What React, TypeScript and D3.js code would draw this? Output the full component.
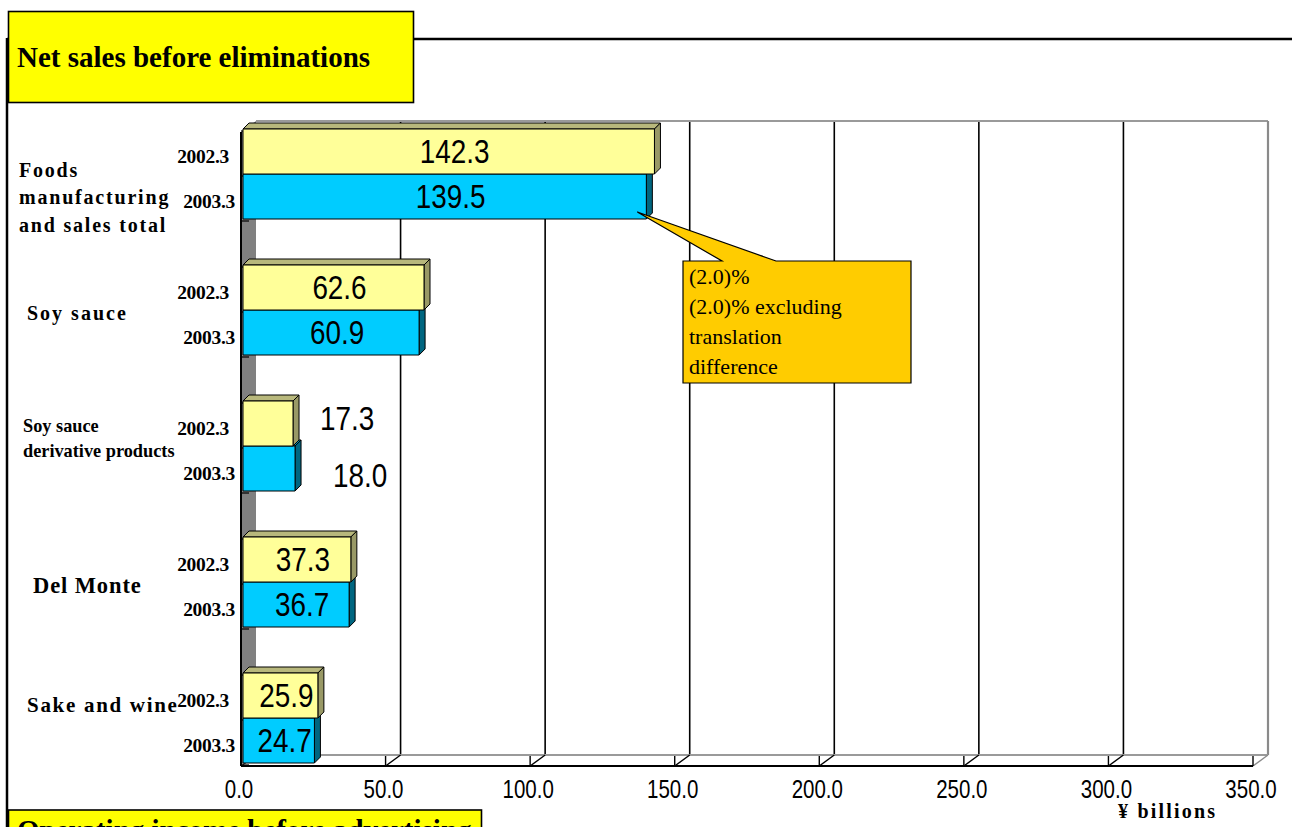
import React from "react";
import * as d3 from "d3";

// Segment names, split into the lines they are set on
const categories = [
  "Foods manufacturing and sales total",
  "Soy sauce",
  "Soy sauce derivative products",
  "Del Monte",
  "Sake and wine",
];
const categoryLines = [
  ["Foods", "manufacturing", "and sales total"],
  ["Soy sauce"],
  ["Soy sauce", "derivative products"],
  ["Del Monte"],
  ["Sake and wine"],
];
const years = ["2002.3", "2003.3"];
// Net sales before eliminations, ¥ billions
const sales2002 = [142.3, 62.6, 17.3, 37.3, 25.9];
const sales2003 = [139.5, 60.9, 18.0, 36.7, 24.7];
const xTicks = [0, 50, 100, 150, 200, 250, 300, 350];
const calloutLines = ["(2.0)%", "(2.0)% excluding", "translation", "difference"];

const W = 1292;
const H = 827;
const SERIF = "'Liberation Serif', 'Times New Roman', serif";
const SANS = "'Liberation Sans', Arial, sans-serif";

// 3D frame geometry
const FLOOR_Y = 766;
const WALL_TOP = 121;
const DX = 15;
const DY = -11;
const BAR_DX = 6;
const BAR_DY = -6;
const BAR_SHIFT = 2;

// Per-category label typography and placement
const catStyle = [
  { x: 19, size: 20, spacing: 1.8, dy: [48, 75, 103] },
  { x: 27, size: 20, spacing: 2, dy: [55] },
  { x: 23, size: 18.3, spacing: 0, dy: [31, 56] },
  { x: 33, size: 22.5, spacing: 0.9, dy: [56] },
  { x: 27, size: 21, spacing: 1.7, dy: [39] },
];

const seriesStyle = [
  { front: "#FFFF99", top: "#B8B87C", side: "#999966", yearRight: 229 },
  { front: "#00CCFF", top: "#0099BB", side: "#006680", yearRight: 235 },
];

export default function App() {
  const x = d3.scaleLinear().domain([0, 350]).range([241, 1253]);
  const band = d3
    .scaleBand<string>()
    .domain(categories)
    .range([129, 129 + 4 * 136 + 90])
    .paddingInner(46 / 136)
    .paddingOuter(0);
  const sub = d3.scaleBand<string>().domain(years).range([0, band.bandwidth()]);
  const h = sub.bandwidth();
  const values = [sales2002, sales2003];

  const x0 = x(0);
  const xEnd = x(350);

  const barFront = (v: number) => x(v) + BAR_SHIFT;

  const bars: JSX.Element[] = [];
  const valueLabels: JSX.Element[] = [];
  const yearLabels: JSX.Element[] = [];
  const ticksY: number[] = [];

  categories.forEach((c, i) => {
    const by = band(c)!;
    ticksY.push(by + 2, by + h + 2, by + 2 * h + 2);
    // draw the lower (2003.3) bar first so the upper bar sits over its top face
    [1, 0].forEach((j) => {
      const v = values[j][i];
      const y0 = by + sub(years[j])!;
      const xl = x0 + BAR_SHIFT;
      const xr = barFront(v);
      const st = seriesStyle[j];
      bars.push(
        <g key={`bar-${i}-${j}`} stroke="#000" strokeWidth={1} strokeLinejoin="round">
          <polygon
            points={`${xl},${y0} ${xl + BAR_DX},${y0 + BAR_DY} ${xr + BAR_DX},${y0 + BAR_DY} ${xr},${y0}`}
            fill={st.top}
          />
          <polygon
            points={`${xr},${y0} ${xr + BAR_DX},${y0 + BAR_DY} ${xr + BAR_DX},${y0 + h + BAR_DY} ${xr},${y0 + h}`}
            fill={st.side}
          />
          <rect x={xl} y={y0} width={xr - xl} height={h} fill={st.front} />
        </g>
      );
    });
    [0, 1].forEach((j) => {
      const v = values[j][i];
      const y0 = by + sub(years[j])!;
      const xl = x0 + BAR_SHIFT;
      const xr = barFront(v);
      const inside = xr - xl > 60;
      const tx = inside ? (xl + xr) / 2 + 6 : xr + 27 + j * 11;
      const ty = inside ? y0 + 34 : y0 + 29 + j * 12;
      valueLabels.push(
        <text
          key={`val-${i}-${j}`}
          transform={`translate(${tx},${ty}) scale(0.82,1)`}
          textAnchor={inside ? "middle" : "start"}
          fontFamily={SANS}
          fontSize={34}
          fill="#000"
        >
          {v.toFixed(1)}
        </text>
      );
      yearLabels.push(
        <text
          key={`yr-${i}-${j}`}
          x={seriesStyle[j].yearRight}
          y={y0 + 34}
          textAnchor="end"
          fontFamily={SERIF}
          fontWeight="bold"
          fontSize={19.5}
          letterSpacing={-0.3}
          fill="#000"
        >
          {years[j]}
        </text>
      );
    });
  });

  // callout anchored on the 2003.3 foods total bar
  const fy = band(categories[0])! + sub(years[1])!;
  const tipX = barFront(sales2003[0]) - 9;
  const tipY = fy + h - 7;
  const cb = { x: 683, y: 261, w: 228, h: 122 };
  const calloutPath = `M${cb.x},${cb.y} L722,${cb.y} L${tipX},${tipY} L776,${cb.y} L${cb.x + cb.w},${cb.y} L${cb.x + cb.w},${cb.y + cb.h} L${cb.x},${cb.y + cb.h} Z`;

  return (
    <svg
      width={W}
      height={H}
      viewBox={`0 0 ${W} ${H}`}
      style={{ position: "absolute", left: 0, top: 0, background: "#fff" }}
    >
      <rect x={0} y={0} width={W} height={H} fill="#fff" />

      {/* page frame */}
      <line x1={7} y1={39} x2={W} y2={39} stroke="#000" strokeWidth={2.5} />
      <line x1={7} y1={38} x2={7} y2={H} stroke="#000" strokeWidth={2.5} />

      {/* back wall */}
      <rect
        x={x0 + DX}
        y={WALL_TOP}
        width={xEnd - x0}
        height={FLOOR_Y + DY - WALL_TOP}
        fill="#fff"
      />
      {xTicks
        .filter((t) => t > 0 && t < 350)
        .map((t) => (
          <line
            key={`g-${t}`}
            x1={x(t) + DX}
            x2={x(t) + DX}
            y1={WALL_TOP}
            y2={FLOOR_Y + DY}
            stroke="#000"
            strokeWidth={1.6}
          />
        ))}
      <line x1={x0 + DX} x2={xEnd + DX} y1={WALL_TOP} y2={WALL_TOP} stroke="#9a9a9a" strokeWidth={2} />
      <line x1={xEnd + DX} x2={xEnd + DX} y1={WALL_TOP} y2={FLOOR_Y + DY} stroke="#8a8a8a" strokeWidth={2.2} />

      {/* floor */}
      <polygon
        points={`${x0},${FLOOR_Y} ${x0 + DX},${FLOOR_Y + DY} ${xEnd + DX},${FLOOR_Y + DY} ${xEnd},${FLOOR_Y}`}
        fill="#fff"
      />
      <line x1={x0 + DX} x2={xEnd + DX} y1={FLOOR_Y + DY} y2={FLOOR_Y + DY} stroke="#9a9a9a" strokeWidth={2} />
      {xTicks.map((t) => (
        <g key={`ft-${t}`} stroke={t === 350 ? "#8a8a8a" : "#000"} strokeWidth={1.4}>
          <line x1={x(t)} y1={FLOOR_Y} x2={x(t) + DX} y2={FLOOR_Y + DY} />
          <line x1={x(t)} y1={FLOOR_Y} x2={x(t)} y2={FLOOR_Y + DY + 1} stroke="#000" />
        </g>
      ))}
      <line x1={x0} x2={xEnd} y1={FLOOR_Y} y2={FLOOR_Y} stroke="#000" strokeWidth={2} />

      {/* left wall */}
      <polygon
        points={`${x0},${FLOOR_Y} ${x0},${WALL_TOP - DY} ${x0 + DX},${WALL_TOP} ${x0 + DX},${FLOOR_Y + DY}`}
        fill="#808080"
      />
      <line x1={x0} x2={x0} y1={WALL_TOP - DY} y2={FLOOR_Y} stroke="#000" strokeWidth={2} />
      {ticksY.map((ty, k) => (
        <line key={`yt-${k}`} x1={x0} x2={x0 + 8} y1={ty} y2={ty} stroke="#000" strokeWidth={1.2} />
      ))}

      {/* bars */}
      {bars}
      {valueLabels}

      {/* axis tick labels */}
      {xTicks.map((t) => (
        <text
          key={`xl-${t}`}
          transform={`translate(${x(t) - 2},798) scale(0.82,1)`}
          textAnchor="middle"
          fontFamily={SANS}
          fontSize={25}
          fill="#000"
        >
          {t.toFixed(1)}
        </text>
      ))}
      <text x={1118} y={818} fontFamily={SERIF} fontWeight="bold" fontSize={20} letterSpacing={2.2} fill="#000">
        ¥ billions
      </text>

      {/* category and year labels */}
      {categoryLines.map((lines, i) => {
        const st = catStyle[i];
        const by = band(categories[i])!;
        return (
          <text
            key={`cat-${i}`}
            fontFamily={SERIF}
            fontWeight="bold"
            fontSize={st.size}
            letterSpacing={st.spacing}
            fill="#000"
          >
            {lines.map((ln, k) => (
              <tspan key={k} x={st.x} y={by + st.dy[k]}>
                {ln}
              </tspan>
            ))}
          </text>
        );
      })}
      {yearLabels}

      {/* callout */}
      <path d={calloutPath} fill="#FFCC00" stroke="#000" strokeWidth={1.2} strokeLinejoin="miter" />
      {calloutLines.map((ln, k) => (
        <text key={`co-${k}`} x={689} y={284 + k * 30} fontFamily={SERIF} fontSize={22} fill="#000">
          {ln}
        </text>
      ))}

      {/* title boxes */}
      <rect x={8.5} y={11.5} width={405} height={91} fill="#FFFF00" stroke="#000" strokeWidth={1.6} />
      <text x={17} y={67} fontFamily={SERIF} fontWeight="bold" fontSize={29} fill="#000">
        Net sales before eliminations
      </text>
      <rect x={8.5} y={810} width={473} height={40} fill="#FFFF00" stroke="#000" strokeWidth={1.6} />
      <text x={17} y={840} fontFamily={SERIF} fontWeight="bold" fontSize={29} fill="#000">
        Operating income before advertising
      </text>
    </svg>
  );
}
